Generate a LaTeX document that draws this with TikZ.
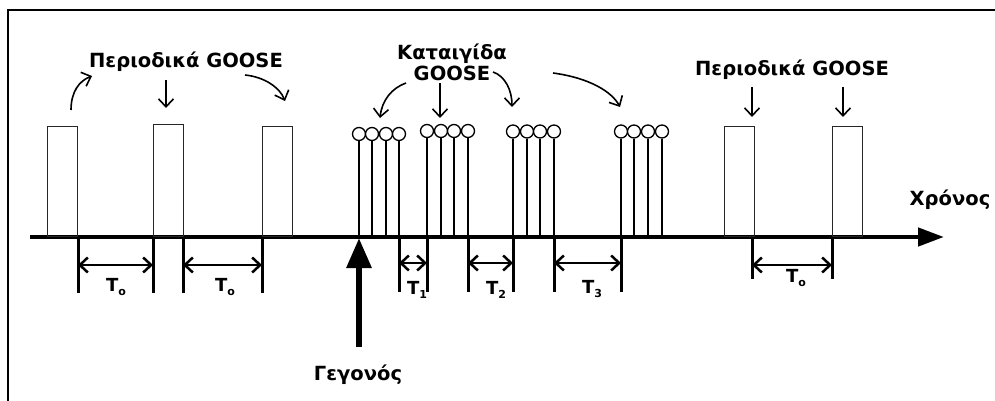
\documentclass[tikz,border=0pt]{standalone}
\usepackage{fontspec}
\setmainfont{DejaVu Sans}
\usetikzlibrary{arrows.meta}
\newcommand{\mysub}[1]{\raisebox{-0.35ex}{\fontsize{11}{12}\selectfont #1}}
\begin{document}
\begin{tikzpicture}[x=1pt,y=-1pt,
  lbl/.style={font=\bfseries\fontsize{19.5}{21}\selectfont, inner sep=0pt, align=center},
  tlbl/.style={font=\bfseries\fontsize{18}{20}\selectfont, inner sep=0pt},
  pulsebox/.style={draw=black!85, line width=1.4pt, minimum width=30pt, inner sep=0pt, anchor=south west},
  stem/.style={line width=1.9pt},
  pin/.style={circle, draw, fill=white, line width=1.3pt, minimum size=13pt, inner sep=0pt},
  tickline/.style={line width=3pt},
  dimline/.style={line width=2.5pt, {Straight Barb[length=8pt,width=15pt]}-{Straight Barb[length=8pt,width=15pt]}},
  callout/.style={line width=1.6pt, -{Straight Barb[length=8pt,width=15pt]}},
  ]
\useasboundingbox (0,0) rectangle (995,401);
% frame
\draw[line width=2pt] (8,401) -- (8,10) -- (995,10);

% time axis
\coordinate (ax0) at (30,237);
\coordinate (ax1) at (944,237);
\draw[line width=4.5pt, -{Triangle[length=26pt,width=18pt]}] (ax0) -- (ax1);

% periodic pulses
\node[pulsebox, minimum height=110pt] (p1) at (47,237) {};
\node[pulsebox, minimum height=112pt] (p2) at (153,237) {};
\node[pulsebox, minimum height=110pt] (p3) at (262,237) {};
\node[pulsebox, minimum height=110pt] (p4) at (724,237) {};
\node[pulsebox, minimum height=110pt] (p5) at (832,237) {};

% burst pins
\foreach \x in {359,372,386,399} {
  \node[pin] (c\x) at (\x,134) {};
  \draw[stem] (c\x.south) -- (\x,237);
}
\foreach \x in {427,441,454,468} {
  \node[pin] (c\x) at (\x,131) {};
  \draw[stem] (c\x.south) -- (\x,237);
}
\foreach \x in {513,527,540,554,621,634,648,662} {
  \node[pin] (c\x) at (\x,131.5) {};
  \draw[stem] (c\x.south) -- (\x,237);
}

% ticks
\foreach \x in {78,153,183,262} {
  \coordinate (ta\x) at (\x,237); \coordinate (tb\x) at (\x,293);
  \draw[tickline] (ta\x) -- (tb\x);
}
\foreach \x in {399,427,468,513,554,621} {
  \coordinate (ta\x) at (\x,237); \coordinate (tb\x) at (\x,292);
  \draw[tickline] (ta\x) -- (tb\x);
}
\foreach \x in {752,832} {
  \coordinate (ta\x) at (\x,237); \coordinate (tb\x) at (\x,279);
  \draw[tickline] (ta\x) -- (tb\x);
}

% dimension arrows
\foreach \a/\b/\y in {78/153/265, 183/262/265, 399/427/263, 468/513/263, 554/621/263, 752/832/265} {
  \coordinate (da\a) at (\a,\y); \coordinate (db\b) at (\b,\y);
  \draw[dimline] (da\a) -- (db\b);
}

% interval labels
\node[tlbl] (to1) at (116,287) {T\mysub{o}};
\node[tlbl] (to2) at (225,287) {T\mysub{o}};
\node[tlbl] (t1) at (417,290) {T\mysub{1}};
\node[tlbl] (t2) at (496,290) {T\mysub{2}};
\node[tlbl] (t3) at (592,289) {T\mysub{3}};
\node[tlbl] (to3) at (796,278) {T\mysub{o}};

% event arrow
\coordinate (ev0) at (359,347);
\coordinate (ev1) at (359,238);
\draw[line width=6pt, -{Triangle[length=30pt,width=24pt]}] (ev0) -- (ev1);
\node[lbl] (event) at (358,375) {Γεγονός};

% labels
\node[lbl] (per1) at (186,62) {Περιοδικά GOOSE};
\node[lbl] (storm) at (452,62) {Καταιγίδα\\GOOSE};
\node[lbl] (per2) at (792,70) {Περιοδικά GOOSE};
\node[lbl] (time) at (950,200) {Χρόνος};

% callout arrows
\coordinate (aA0) at (71,110); \coordinate (aA1) at (92,76);
\draw[callout] (aA0) .. controls (71,92) and (79,81) .. (aA1);
\coordinate (aB0) at (166,80); \coordinate (aB1) at (166,108);
\draw[callout] (aB0) -- (aB1);
\coordinate (aC0) at (245,75); \coordinate (aC1) at (285,101);
\draw[callout] (aC0) .. controls (265,77) and (280,88) .. (aC1);
\coordinate (aD0) at (406,83); \coordinate (aD1) at (380,118);
\draw[callout] (aD0) .. controls (392,88) and (382,100) .. (aD1);
\coordinate (aE0) at (440,83); \coordinate (aE1) at (440,118);
\draw[callout] (aE0) -- (aE1);
\coordinate (aF0) at (493,72); \coordinate (aF1) at (512,107);
\draw[callout] (aF0) .. controls (505,76) and (512,90) .. (aF1);
\coordinate (aG0) at (553,73); \coordinate (aG1) at (620,107);
\draw[callout] (aG0) .. controls (590,78) and (612,92) .. (aG1);
\coordinate (aH0) at (752,87); \coordinate (aH1) at (752,117);
\draw[callout] (aH0) -- (aH1);
\coordinate (aI0) at (843,87); \coordinate (aI1) at (843,117);
\draw[callout] (aI0) -- (aI1);
\end{tikzpicture}
\end{document}
